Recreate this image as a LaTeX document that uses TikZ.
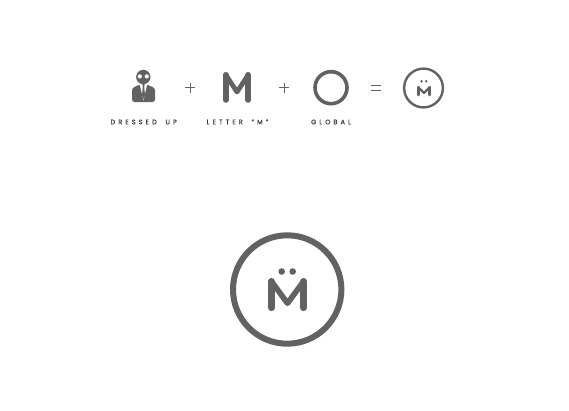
\documentclass[tikz,border=0pt]{standalone}
\usepackage{fontspec}
\setmainfont{Poppins}[LetterSpace=48,FakeBold=0.4,WordSpace=1.8]
\definecolor{ink}{HTML}{626262}
\definecolor{labelink}{HTML}{3A3A3A}
\tikzset{
  lbl/.style={text=labelink,font=\fontsize{6.5}{7}\selectfont,inner sep=0pt,anchor=center},
  ring/.style={draw=ink,fill=none},
  mark stroke/.style={draw=ink,line cap=round,line join=round},
  thin stroke/.style={draw=ink,line width=1pt},
  solid ink/.style={fill=ink,draw=none}
}
\begin{document}
\begin{tikzpicture}[x=1pt,y=-1pt]
\useasboundingbox (0,0) rectangle (569,410);
\fill[white] (0,0) rectangle (569,410);
% person
\fill[solid ink,rounded corners=2.5pt] (132,102) -- (132,88) -- (140,84.5) -- (146.5,84.5) -- (155,88) -- (155,102) -- cycle;
\fill[white] (139.6,84) -- (143.5,100.5) -- (147.2,84) -- cycle;
\fill[solid ink] (142.3,84) -- (144.7,84) -- (144.2,87) -- (145,95) -- (143.5,99) -- (142,95) -- (142.8,87) -- cycle;
\fill[solid ink] (143.3,77) circle (7.2);
\fill[white] (139.8,76.4) circle (2.1) (146.8,76.4) circle (2.1);
\node[lbl] (l1) at (143.7,122) {DRESSED UP};
% plus 1
\draw[thin stroke] (185,87.5) -- (195,87.5) (190,82.5) -- (190,92.5);
% M
\draw[mark stroke,line width=5.6pt] (225.8,100) -- (225.8,74.8) (248.2,74.8) -- (248.2,100);
\draw[mark stroke,line width=4.8pt] (225.8,74.8) -- (237,92) -- (248.2,74.8);
\node[lbl] (l2) at (237.5,122) {LETTER “M”};
% plus 2
\draw[thin stroke] (279,87.5) -- (289,87.5) (284,82.5) -- (284,92.5);
% global
\draw[ring,line width=3.6pt] (331,87.7) circle (16);
\node[lbl] (l3) at (331,122) {GLOBAL};
% equals
\draw[thin stroke] (371,85) -- (381,85) (371,90) -- (381,90);
% small logo
\draw[ring,line width=2.4pt] (423.5,88) circle (19.4);
\draw[mark stroke,line width=2.7pt] (418.2,95) -- (418.2,87.2) (429.8,87.2) -- (429.8,95);
\draw[mark stroke,line width=2.3pt] (418.2,87.2) -- (424,93) -- (429.8,87.2);
\fill[solid ink] (421.5,81.2) circle (1.4) (426.2,81.2) circle (1.4);
% large logo
\draw[ring,line width=6pt] (287.2,289.5) circle (54.2);
\draw[mark stroke,line width=6.6pt] (271.4,307.8) -- (271.4,281.3) (303.6,281.3) -- (303.6,307.8);
\draw[mark stroke,line width=5.6pt] (271.4,281.3) -- (287.5,303.3) -- (303.6,281.3);
\fill[solid ink] (281.7,271.5) circle (3.3) (292.7,271.5) circle (3.3);
\end{tikzpicture}
\end{document}
